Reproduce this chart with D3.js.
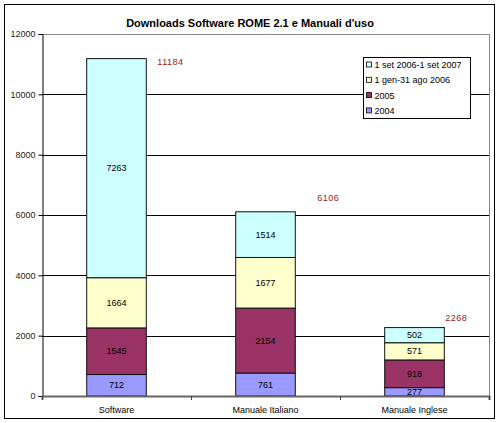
<!DOCTYPE html>
<html>
<head>
<meta charset="utf-8">
<script src="https://cdn.jsdelivr.net/npm/d3@7"></script>
<style>
  body { margin: 0; background: #fff; }
  svg { display: block; font-family: Arial, "Liberation Sans", sans-serif; }
</style>
</head>
<body>
<script>
// data
var categories = ['Software', 'Manuale Italiano', 'Manuale Inglese'];
var seriesNames = ['2004', '2005', '1 gen-31 ago 2006', '1 set 2006-1 set 2007'];
var v2004 = [712, 761, 277],
	v2005 = [1545, 2154, 918],
	vGenAgo2006 = [1664, 1677, 571],
	vSet2006_2007 = [7263, 1514, 502];
var yTicks = [0, 2000, 4000, 6000, 8000, 10000, 12000];

var colors = ['#9999ff', '#993366', '#ffffcc', '#ccffff'];
var totalColor = '#a01818';

// note: "top" is taken by window.top, so plot edges get their own names
var w = 500, h = 423;
var plotL = 42, plotR = 489, plotT = 34, plotB = 396;

var rows = categories.map(function(c, i) {
	return { cat: c, s0: v2004[i], s1: v2005[i], s2: vGenAgo2006[i], s3: vSet2006_2007[i] };
});

var stack = d3.stack().keys(['s0', 's1', 's2', 's3']);
var layers = stack(rows);

var svg = d3.select('body').append('svg')
	.attr('width', w)
	.attr('height', h);

// outer frame
svg.append('rect')
	.attr('x', 4.5).attr('y', 4.5)
	.attr('width', 490).attr('height', 414)
	.attr('fill', '#fff')
	.attr('stroke', '#000');

var x = d3.scaleBand()
	.domain(categories)
	.range([plotL, plotR])
	.paddingInner(0.6)
	.paddingOuter(0.3);

var y = d3.scaleLinear()
	.domain([0, 12000])
	.range([plotB, plotT]);

// title
svg.append('text')
	.attr('x', 250).attr('y', 27)
	.attr('text-anchor', 'middle')
	.style('font-size', '11px')
	.style('font-weight', 'bold')
	.text("Downloads Software ROME 2.1 e Manuali d'uso");

// grid lines (behind the bars)
svg.append('g')
	.attr('transform', 'translate(' + plotL + ',0)')
	.call(d3.axisLeft(y).tickValues(yTicks.slice(1, -1)).tickSize(-(plotR - plotL)).tickFormat(''))
	.call(function(g) {
		g.select('.domain').remove();
		g.selectAll('line').attr('stroke', '#000').attr('shape-rendering', 'crispEdges');
	});

// plot border top and right
svg.append('path')
	.attr('d', 'M' + plotL + ',' + (plotT + 0.5) + 'H' + (plotR + 0.5) + 'V' + plotB)
	.attr('fill', 'none')
	.attr('stroke', '#888')
	.attr('shape-rendering', 'crispEdges');

// bars
svg.append('g').selectAll('g')
	.data(layers)
	.enter().append('g')
		.attr('fill', function(d, i) { return colors[i]; })
	.selectAll('rect')
	.data(function(d) { return d; })
	.enter().append('rect')
		.attr('x', function(d) { return x(d.data.cat); })
		.attr('y', function(d) { return y(d[1]); })
		.attr('width', x.bandwidth())
		.attr('height', function(d) { return y(d[0]) - y(d[1]); })
		.attr('stroke', '#111')
		.attr('stroke-width', 1);

// segment labels
svg.append('g').selectAll('g')
	.data(layers)
	.enter().append('g')
	.selectAll('text')
	.data(function(d) { return d; })
	.enter().append('text')
		.attr('x', function(d) { return x(d.data.cat) + x.bandwidth() / 2; })
		.attr('y', function(d) { return (y(d[0]) + y(d[1])) / 2; })
		.attr('dy', '0.35em')
		.attr('text-anchor', 'middle')
		.style('font-size', '9px')
		.attr('fill', '#000')
		.text(function(d) { return d[1] - d[0]; });

// totals, nudged the way the original was placed by hand
var totalNudge = [[11, 3], [22, -14], [1, -10]];
svg.append('g').selectAll('text')
	.data(rows)
	.enter().append('text')
		.attr('x', function(d, i) { return x(d.cat) + x.bandwidth() + totalNudge[i][0]; })
		.attr('y', function(d, i) { return y(d.s0 + d.s1 + d.s2 + d.s3) + totalNudge[i][1]; })
		.attr('dy', '0.35em')
		.style('font-size', '9px')
		.attr('fill', totalColor)
		.style('letter-spacing', '0.5px')
		.text(function(d) { return d.s0 + d.s1 + d.s2 + d.s3; });

// y axis
svg.append('g')
	.attr('transform', 'translate(' + (plotL + 0.5) + ',0)')
	.call(d3.axisLeft(y).tickValues(yTicks).tickSize(4).tickPadding(3).tickFormat(d3.format('d')))
	.call(function(g) {
		g.select('.domain').attr('stroke', '#000');
		g.selectAll('text').style('font-size', '9px').style('font-family', 'Arial, "Liberation Sans", sans-serif').attr('fill', '#222');
	});

// x axis: base line, ticks between categories, labels
var xEdges = d3.scaleLinear().domain([0, categories.length]).range([plotL, plotR]);
svg.append('g')
	.attr('transform', 'translate(0,' + plotB + ')')
	.call(d3.axisBottom(xEdges).tickValues(d3.range(0, categories.length + 1)).tickSize(4).tickFormat(''))
	.call(function(g) {
		g.select('.domain').attr('stroke', '#666').attr('stroke-width', 2);
		g.selectAll('line').attr('stroke', '#444');
	});

svg.append('g')
	.attr('transform', 'translate(0,' + plotB + ')')
	.call(d3.axisBottom(x).tickSize(0).tickPadding(11))
	.call(function(g) {
		g.select('.domain').remove();
		g.selectAll('text').style('font-size', '9px').style('font-family', 'Arial, "Liberation Sans", sans-serif').attr('fill', '#000');
	});

// legend, top entry is the top of the stack
var legend = svg.append('g').attr('transform', 'translate(363.5,57.5)');
legend.append('rect')
	.attr('width', 107).attr('height', 61)
	.attr('fill', '#fff').attr('stroke', '#000');

var order = [3, 2, 1, 0];
var item = legend.selectAll('g.item')
	.data(order)
	.enter().append('g')
		.attr('class', 'item')
		.attr('transform', function(d, i) { return 'translate(3,' + (5 + i * 15.3) + ')'; });
item.append('rect')
	.attr('width', 5).attr('height', 5)
	.attr('y', -0.5)
	.attr('fill', function(d) { return colors[d]; })
	.attr('stroke', '#000')
	.attr('stroke-width', 0.8);
item.append('text')
	.attr('x', 8).attr('y', 2.5)
	.attr('dy', '0.35em')
	.style('font-size', '9px')
	.text(function(d) { return seriesNames[d]; });
</script>
</body>
</html>
